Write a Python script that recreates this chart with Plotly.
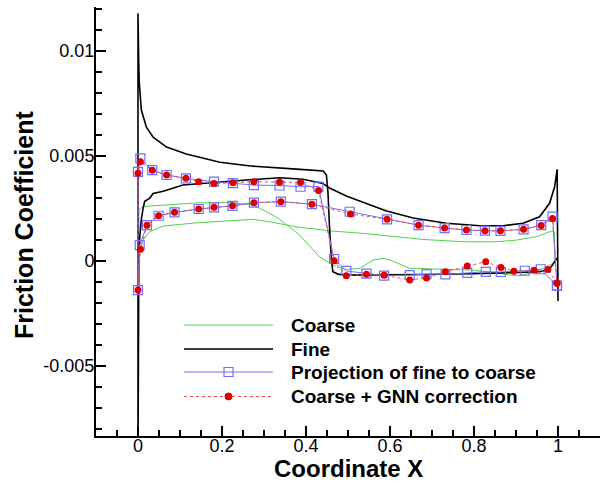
import plotly.graph_objects as go

# ---------------- data ----------------
fine_x = [1.0, 0.998, 0.992, 0.980, 0.956, 0.917, 0.869, 0.814, 0.734, 0.655, 0.590, 0.544,
          0.496, 0.456, 0.440, 0.393, 0.337, 0.258, 0.179, 0.107, 0.060, 0.036, 0.028,
          0.016, 0.012, 0.008, 0.004, 0.002, 0.0, 0.0, 0.0015, 0.003, 0.008, 0.020, 0.036,
          0.068, 0.115, 0.195, 0.273, 0.378, 0.441, 0.4486, 0.4524, 0.456, 0.4605, 0.464,
          0.476, 0.496, 0.559, 0.680, 0.797, 0.900, 0.956, 0.975, 0.984, 0.992, 0.998]
fine_y = [-0.0019, 0.00437, 0.00354, 0.00275, 0.00211, 0.00180, 0.00168, 0.00168, 0.00180,
          0.00205, 0.00240, 0.00275, 0.00310, 0.00348, 0.00370, 0.00390, 0.00397, 0.00386,
          0.00375, 0.00362, 0.00333, 0.00322, 0.00300, 0.00285, 0.00250, 0.00200, 0.00110,
          0.00020, -0.0095, 0.0118, 0.0097, 0.0085, 0.00719, 0.00638, 0.00590, 0.00543,
          0.00510, 0.00471, 0.00452, 0.00438, 0.00429, 0.00410, 0.00324, 0.00162, 0.00005,
          -0.00051, -0.00062, -0.00067, -0.00067, -0.00064, -0.00060, -0.00055, -0.00051,
          -0.00043, -0.00027, -0.00003, 0.00014]

coarse_x = [0.996, 0.988, 0.964, 0.933, 0.901, 0.861, 0.798, 0.718, 0.647, 0.600, 0.583,
            0.560, 0.528, 0.496, 0.472, 0.432, 0.385, 0.337, 0.314, 0.274, 0.218, 0.139,
            0.060, 0.012, 0.0024, 0.0015, 0.004, 0.008, 0.012, 0.028, 0.060, 0.139, 0.218,
            0.274, 0.314, 0.377, 0.456, 0.536, 0.615, 0.679, 0.774, 0.853, 0.901, 0.949,
            0.984, 0.991, 0.993]
coarse_y = [0.00005, -0.00011, -0.00035, -0.00059, -0.00070, -0.00059, -0.00043, -0.00038,
            -0.00035, 0.00005, 0.00013, 0.00005, -0.00035, -0.00040, -0.00027, 0.00020,
            0.00124, 0.00199, 0.00227, 0.00267, 0.00279, 0.00277, 0.00267, 0.00260, 0.00243,
            0.00030, 0.00040, 0.00067, 0.00100, 0.00140, 0.00167, 0.00182, 0.00192, 0.00199,
            0.00187, 0.00163, 0.00144, 0.00132, 0.00116, 0.00103, 0.00092, 0.00092, 0.00100,
            0.00116, 0.00143, 0.00140, 0.00000]

proj_x = [0.9976, 0.959, 0.921, 0.864, 0.828, 0.784, 0.732, 0.687, 0.647, 0.586, 0.544,
          0.496, 0.467, 0.4295, 0.387, 0.337, 0.276, 0.226, 0.181, 0.114, 0.068, 0.034,
          0.0057, 0.0, 0.0, 0.004, 0.0214, 0.049, 0.087, 0.1445, 0.181, 0.225, 0.276, 0.340,
          0.414, 0.504, 0.593, 0.668, 0.730, 0.782, 0.826, 0.863, 0.918, 0.960, 0.987, 0.9976]
proj_y = [-0.00117, -0.00039, -0.00046, -0.00052, -0.00051, -0.00056, -0.00063, -0.00062,
          -0.00067, -0.00069, -0.00060, -0.00047, 0.00010, 0.00355, 0.00354, 0.00360,
          0.00362, 0.00371, 0.00378, 0.00394, 0.00410, 0.00433, 0.00489, 0.00425, -0.00138,
          0.00076, 0.00171, 0.00216, 0.00232, 0.00248, 0.00256, 0.00263, 0.00278, 0.00283,
          0.00271, 0.00235, 0.00199, 0.00171, 0.00157, 0.00148, 0.00145, 0.00144, 0.00151,
          0.00171, 0.00212, -0.00117]

gnn_x = [0.9976, 0.976, 0.943, 0.895, 0.864, 0.828, 0.784, 0.732, 0.687, 0.647, 0.586,
         0.544, 0.496, 0.467, 0.430, 0.387, 0.337, 0.276, 0.226, 0.181, 0.1445, 0.114, 0.068,
         0.034, 0.0057, 0.0, 0.0, 0.0057, 0.0214, 0.049, 0.087, 0.1445, 0.181, 0.225, 0.276,
         0.340, 0.414, 0.506, 0.593, 0.668, 0.730, 0.782, 0.826, 0.863, 0.918, 0.960, 0.987,
         0.9976]
gnn_y = [-0.00105, -0.00040, -0.00044, -0.00048, -0.00030, -0.00003, -0.00024, -0.00051,
         -0.00080, -0.00090, -0.00067, -0.00063, -0.00070, 0.00002, 0.00336, 0.00374,
         0.00376, 0.00378, 0.00373, 0.00370, 0.00378, 0.00394, 0.00410, 0.00433, 0.00473,
         0.00418, -0.00138, 0.00056, 0.00171, 0.00216, 0.00232, 0.00248, 0.00256, 0.00263,
         0.00278, 0.00283, 0.00271, 0.00224, 0.00199, 0.00171, 0.00157, 0.00148, 0.00144,
         0.00144, 0.00151, 0.00170, 0.00203, -0.00105]

x_tick_vals = [0, 0.2, 0.4, 0.6, 0.8, 1]
x_tick_text = ["0", "0.2", "0.4", "0.6", "0.8", "1"]
y_tick_vals = [-0.005, 0, 0.005, 0.01]
y_tick_text = ["-0.005", "0", "0.005", "0.01"]
legend_names = ["Coarse", "Fine", "Projection of fine to coarse", "Coarse + GNN correction"]
x_title = "Coordinate X"
y_title = "Friction Coefficient"

# ---------------- styles ----------------
GREEN = "rgb(80,210,80)"
BLUE = "rgb(110,110,255)"
RED = "rgb(220,0,0)"
RED_LINE = "rgb(235,80,80)"
FONT = "Liberation Sans, Arial, sans-serif"

W, H = 611, 483
ML, MR, MT, MB = 96, 11, 7, 47
PW, PH = W - ML - MR, H - MT - MB


def px(x):
    return (x - ML) / PW


def py(y):
    return (H - MB - y) / PH


fig = go.Figure()
fig.add_trace(go.Scatter(x=coarse_x, y=coarse_y, mode="lines", name=legend_names[0],
                         line=dict(color=GREEN, width=1), showlegend=False))
fig.add_trace(go.Scatter(x=fine_x, y=fine_y, mode="lines", name=legend_names[1],
                         line=dict(color="black", width=1.6), showlegend=False))
fig.add_trace(go.Scatter(x=proj_x, y=proj_y, mode="lines+markers", name=legend_names[2],
                         line=dict(color=BLUE, width=1),
                         marker=dict(symbol="square-open", size=9, color=BLUE,
                                     line=dict(width=1.2, color=BLUE)),
                         showlegend=False))
fig.add_trace(go.Scatter(x=gnn_x, y=gnn_y, mode="lines+markers", name=legend_names[3],
                         line=dict(color=RED_LINE, width=1, dash="dot"),
                         marker=dict(symbol="circle", size=7, color=RED),
                         showlegend=False))

# ---------------- custom legend ----------------
rows_y = [325, 349, 372, 396.5]
lx0, lx1, ltext = 184, 273, 289
shapes = []
annotations = []
styles = [dict(color=GREEN, width=1), dict(color="black", width=1.6),
          dict(color=BLUE, width=1), dict(color=RED_LINE, width=1, dash="dot")]
for name, ry, st in zip(legend_names, rows_y, styles):
    shapes.append(dict(type="line", xref="paper", yref="paper", x0=px(lx0), x1=px(lx1),
                       y0=py(ry), y1=py(ry), line=st))
    annotations.append(dict(xref="paper", yref="paper", x=px(ltext), y=py(ry), text=name,
                            showarrow=False, xanchor="left", yanchor="middle",
                            font=dict(family=FONT, size=19, color="black", weight="bold")))
cx = (lx0 + lx1) / 2
shapes.append(dict(type="rect", xref="paper", yref="paper", x0=px(cx - 4.5), x1=px(cx + 4.5),
                   y0=py(rows_y[2] + 4.5), y1=py(rows_y[2] - 4.5),
                   line=dict(color=BLUE, width=1.2), fillcolor="rgba(0,0,0,0)"))
shapes.append(dict(type="circle", xref="paper", yref="paper", x0=px(cx - 3.5), x1=px(cx + 3.5),
                   y0=py(rows_y[3] + 3.5), y1=py(rows_y[3] - 3.5),
                   line=dict(color=RED, width=1), fillcolor=RED))

# axis titles as annotations for exact placement
annotations.append(dict(xref="paper", yref="paper", x=px(348), y=py(483), text=x_title,
                        showarrow=False, xanchor="center", yanchor="bottom", borderpad=0,
                        font=dict(family=FONT, size=24, color="black", weight="bold")))
annotations.append(dict(xref="paper", yref="paper", x=px(24), y=py(225), text=y_title,
                        showarrow=False, xanchor="center", yanchor="middle", textangle=-90,
                        font=dict(family=FONT, size=25, color="black", weight="bold")))

axis_common = dict(showgrid=False, zeroline=False, showline=True, linecolor="black",
                   linewidth=2, ticks="inside", ticklen=10, tickwidth=2, tickcolor="black",
                   automargin=False,
                   tickfont=dict(family=FONT, size=18, color="black"))

fig.update_layout(
    width=W, height=H,
    margin=dict(l=ML, r=MR, t=MT, b=MB),
    paper_bgcolor="white", plot_bgcolor="white",
    shapes=shapes, annotations=annotations,
    showlegend=False,
    xaxis=dict(range=[-0.1, 1.1], tickvals=x_tick_vals, ticktext=x_tick_text,
               ticklabelstandoff=-8,
               minor=dict(ticks="inside", ticklen=6, tickwidth=1.5, tickcolor="black",
                          dtick=0.05, tick0=0, showgrid=False),
               **axis_common),
    yaxis=dict(range=[-0.00833, 0.0121], tickvals=y_tick_vals, ticktext=y_tick_text,
               ticklabelstandoff=-4,
               minor=dict(ticks="inside", ticklen=6, tickwidth=1.5, tickcolor="black",
                          dtick=0.001, tick0=0, showgrid=False),
               **axis_common),
)

fig.write_html("out.html")
